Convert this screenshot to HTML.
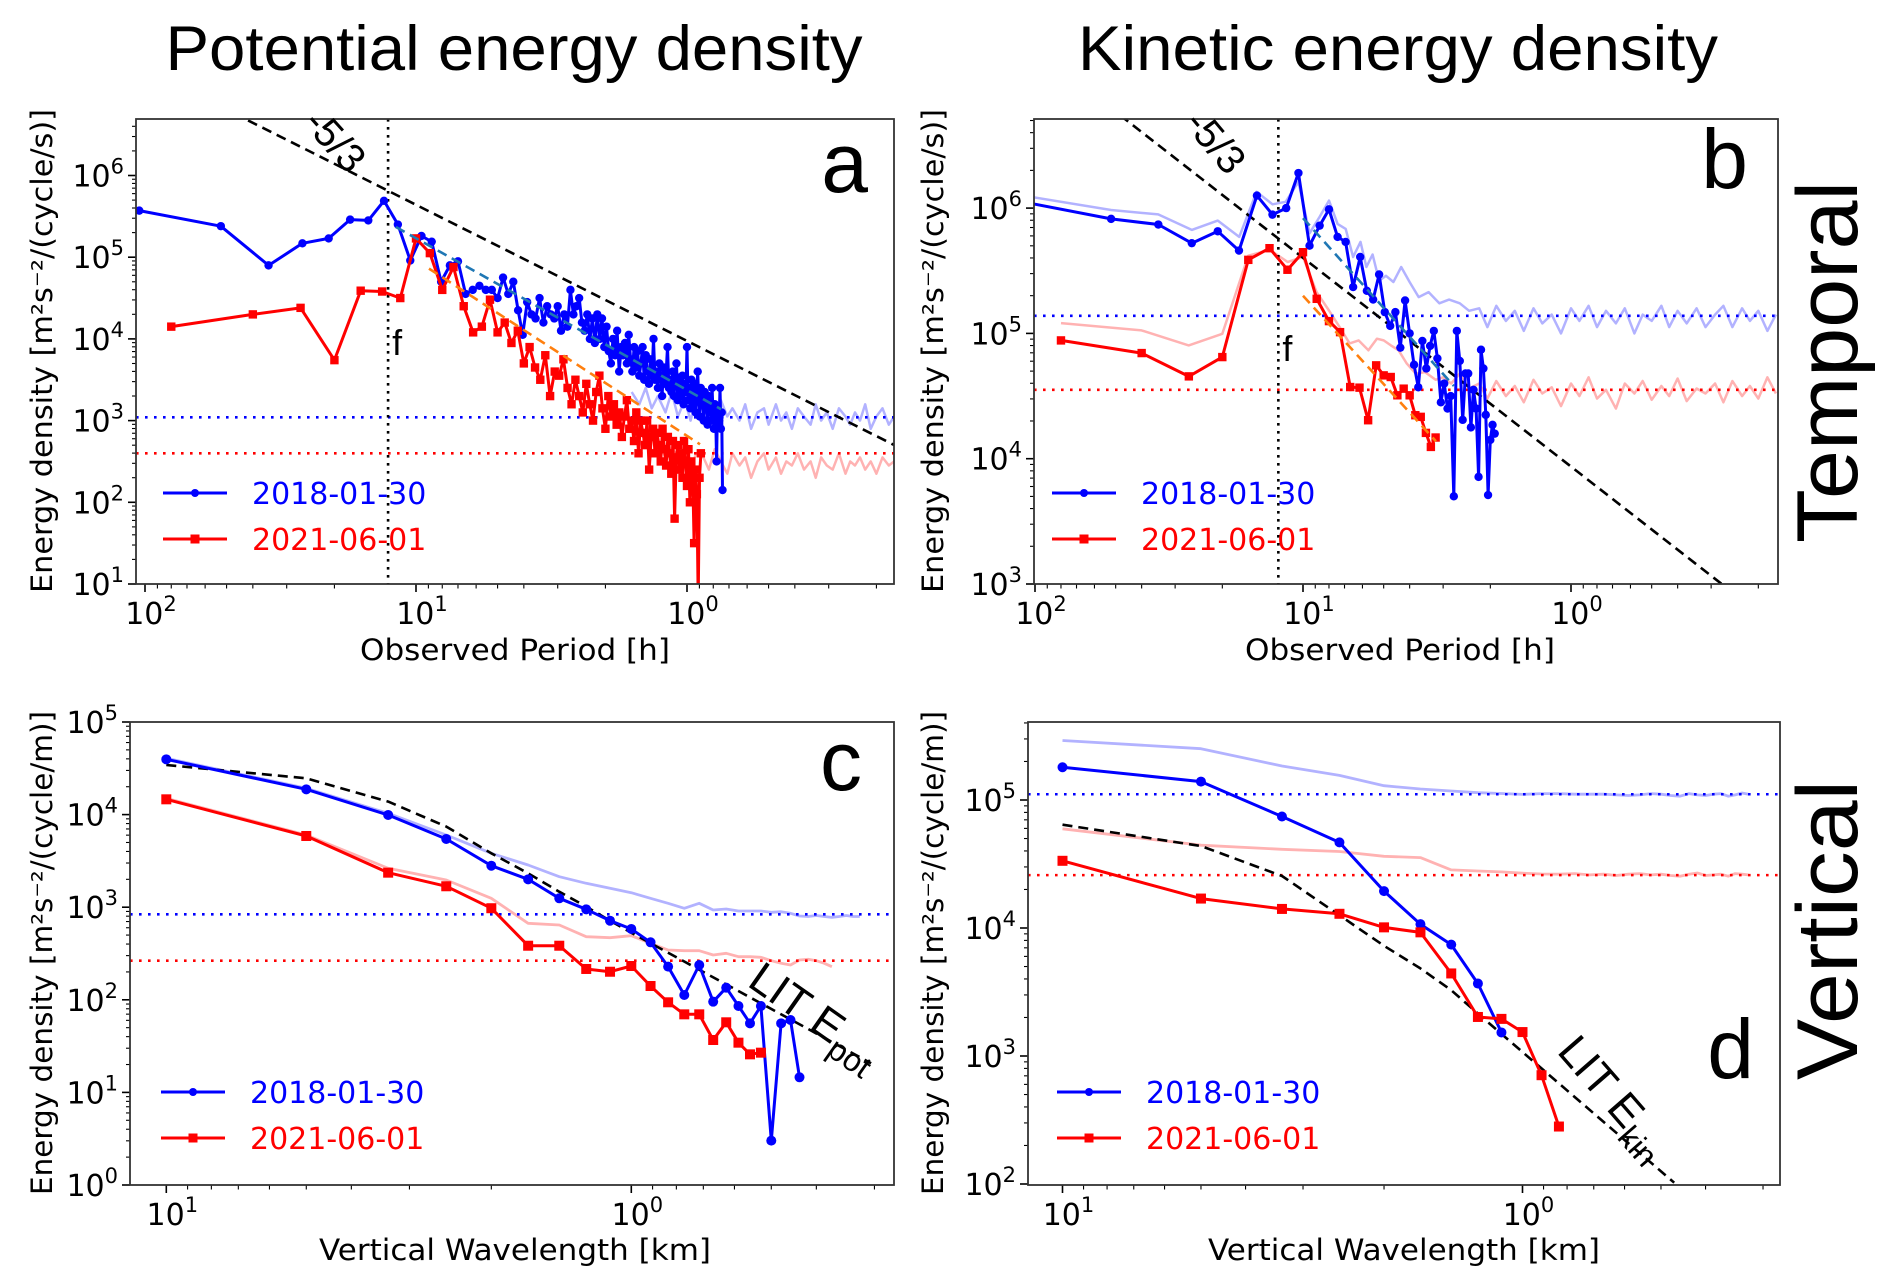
<!DOCTYPE html>
<html><head><meta charset="utf-8"><title>Energy density spectra</title>
<style>
html,body{margin:0;padding:0;background:#fff;}
svg{display:block;}
.tk{font-family:"DejaVu Sans","Liberation Sans",sans-serif;font-size:30px;fill:#000;}
.lab{font-family:"DejaVu Sans","Liberation Sans",sans-serif;font-size:29px;fill:#000;}
.big{font-family:"Liberation Sans",sans-serif;fill:#000;}
</style></head>
<body>
<svg id="fig" xmlns="http://www.w3.org/2000/svg" width="1892" height="1288" viewBox="0 0 1892 1288">
<rect x="0" y="0" width="1892" height="1288" fill="#fff"/>
<text class="big" x="514" y="70" font-size="63" text-anchor="middle" textLength="697" lengthAdjust="spacingAndGlyphs">Potential energy density</text>
<text class="big" x="1398" y="70" font-size="63" text-anchor="middle" textLength="640" lengthAdjust="spacingAndGlyphs">Kinetic energy density</text>
<text class="big" transform="translate(1857,362) rotate(-90)" font-size="86" text-anchor="middle" textLength="362" lengthAdjust="spacingAndGlyphs">Temporal</text>
<text class="big" transform="translate(1857,930) rotate(-90)" font-size="86" text-anchor="middle" textLength="300" lengthAdjust="spacingAndGlyphs">Vertical</text>
</svg>
<script>
// ---------- DATA ----------
const blueA_T = 105;
const blueA_log = [5.57,5.38,4.9,5.17,5.23,5.46,5.45,5.69,5.4,4.96,5.26,5.19,4.7,4.9,4.95,4.55,4.6,4.65,4.6,4.6,
4.5,4.75,4.55,4.7,4.35,4.05,4.45,4.3,4.25,4.5,4.2,4.4,4.3,4.25,4.4,4.1,4.3,4.15,4.6,4.3,
4.4,4.5,4.2,4.1,4.3,4.0,4.25,3.95,4.3,4.0,4.25,3.9,4.15,3.85,3.7,4.0,3.8,4.1,3.6,3.9,
3.8,3.95,3.7,4.05,3.75,3.6,3.9,3.65,3.85,3.55,3.7,3.9,3.5,3.8,3.6,3.45,3.75,3.55,4.0,3.5,
3.6,3.4,3.7,3.55,3.3,3.65,3.45,3.6,3.9,3.4,3.5,3.35,3.6,3.3,3.55,3.7,3.25,3.5,3.4,3.3,
3.55,3.2,3.45,3.35,3.9,3.25,3.4,3.15,3.5,3.3,3.2,3.45,3.1,3.35,3.6,3.25,3.05,3.4,3.2,3.3,
3.0,3.35,3.15,3.25,2.95,3.3,3.1,3.2,3.0,3.4,3.1,2.9,3.2,3.05,2.5,3.15,2.95,3.0,3.4,2.9,3.1,2.15];
const redA_T = 80;
const redA_log = [4.15,4.3,4.38,3.74,4.59,4.58,4.5,5.23,5.05,4.6,4.88,4.4,4.08,4.15,4.48,4.08,
4.2,3.95,4.1,3.7,3.9,3.65,3.5,3.8,3.3,3.6,3.55,3.75,3.4,3.2,
3.5,3.3,3.1,3.45,3.2,3.0,3.35,3.55,3.15,2.9,3.3,3.05,3.2,2.95,3.1,
2.8,3.05,3.25,2.9,3.0,2.75,3.1,2.6,3.0,2.85,2.7,3.0,2.4,2.8,2.9,
2.6,2.85,2.7,2.5,2.9,2.65,2.45,2.8,2.6,2.35,2.75,1.8,2.55,2.7,2.4,
2.6,2.3,2.75,2.5,2.2,2.65,2.0,2.5,2.35,1.5,2.4,2.1,0.8,2.3,2.6];
const fadedA_periods = [1.6,1.5,1.42,1.35,1.28,1.2,1.14,1.08,1.02,0.97,0.92,0.87,0.83,0.79,0.75,0.71,0.68,0.64,0.61,0.58,0.55,0.52,0.5,0.47,0.45,0.43,0.41,0.39,0.37,0.35,0.335,0.32,0.305,0.29,0.275,0.26,0.25,0.24,0.23,0.22,0.21,0.2,0.19,0.18,0.172];
const fadedBlueA_log = [3.35,3.2,3.4,3.15,3.3,3.1,3.35,3.05,3.25,3.0,3.3,3.1,3.2,2.95,3.25,3.05,3.15,3.0,3.2,2.9,3.1,3.15,2.95,3.2,3.0,3.1,2.9,3.15,3.05,2.95,3.2,3.0,3.1,2.9,3.15,3.05,2.95,3.1,3.0,3.2,2.9,3.05,3.15,2.95,3.05];
const fadedRedA_log = [2.9,2.7,2.8,2.6,2.75,2.55,2.7,2.5,2.65,2.45,2.6,2.55,2.4,2.65,2.5,2.35,2.6,2.45,2.55,2.3,2.5,2.6,2.4,2.55,2.35,2.5,2.45,2.6,2.4,2.5,2.3,2.55,2.45,2.4,2.6,2.35,2.5,2.45,2.55,2.4,2.5,2.35,2.55,2.45,2.5];
const noiseA_log = [3.04, 2.6];
const slopeA_anchor = [1.107, 5.82];
const fitTealA = [1.074,5.37,-0.126,3.14];
const fitOrangeA = [0.952,4.86,-0.048,2.71];

const blueB_T = 104;
const blueB_log = [6.038,5.914,5.869,5.72,5.815,5.661,6.1,5.948,6.0,6.28,5.7,5.86,5.99,5.77,5.73,5.37,5.61,5.34,5.27,5.47,
5.17,5.06,5.17,4.886,5.263,5.0,4.75,4.57,4.94,4.72,4.9,5.02,4.8,4.45,4.6,4.4,4.5,3.70,5.02,4.78,
4.31,4.68,4.68,4.25,4.55,4.40,3.855,4.87,4.72,4.35,3.71,4.15,4.27,4.2];
const redB_T = 80;
const redB_log = [4.944,4.843,4.657,4.811,5.587,5.68,5.508,5.648,5.276,5.098,5.01,4.572,4.567,4.307,4.745,4.665,4.652,4.506,4.559,4.506,4.347,4.334,4.206,4.094,4.169];
const fadedBlueB_periods = [104,52,34.7,26,20.8,17.3,14.9,13,11.6,10.4,9.45,8.67,8,7.43,6.93,6.5,6.1,5.8,5.5,5.2,4.9,4.6,4.3,4.0,3.7,3.4,3.1,2.85,2.6,2.4,2.2,2.05,1.9,1.75,1.62,1.5,1.38,1.28,1.18,1.09,1.0,0.93,0.86,0.8,0.74,0.68,0.63,0.58,0.54,0.5,0.46,0.43,0.4,0.37,0.34,0.315,0.29,0.27,0.25,0.23,0.215,0.2,0.185,0.172];
const fadedBlueB_log = [6.09,5.985,5.95,5.826,5.9,5.77,6.13,6.03,6.05,6.21,5.8,5.93,6.06,5.874,5.834,5.61,5.73,5.53,5.63,5.42,5.46,5.41,5.53,5.41,5.29,5.33,5.24,5.27,5.24,5.18,
5.2,5.05,5.22,5.1,5.18,5.02,5.2,5.08,5.15,5.0,5.2,5.1,5.22,5.05,5.18,5.08,5.2,5.0,5.15,5.1,5.22,5.05,5.18,5.08,5.2,5.05,5.15,5.22,5.05,5.2,5.1,5.18,5.02,5.15];
const fadedRedB_periods = [80,40,26.7,20,16,13.3,11.4,10,8.9,8,7.3,6.7,6.2,5.7,5.3,5,4.7,4.4,4.1,3.8,3.5,3.2,3.0,2.8,2.6,2.4,2.2,2.05,1.9,1.75,1.62,1.5,1.38,1.28,1.18,1.09,1.0,0.93,0.86,0.8,0.74,0.68,0.63,0.58,0.54,0.5,0.46,0.43,0.4,0.37,0.34,0.315,0.29,0.27,0.25,0.23,0.215,0.2,0.185,0.172];
const fadedRedB_log = [5.082,5.024,4.904,4.997,5.62,5.667,5.57,5.61,5.33,5.183,5.05,4.92,4.944,4.865,4.958,4.944,4.904,4.865,4.759,4.679,4.69,4.63,4.65,4.60,4.68,4.56,
4.6,4.48,4.62,4.5,4.58,4.45,4.63,4.52,4.57,4.42,4.6,4.5,4.65,4.48,4.55,4.4,4.6,4.52,4.62,4.47,4.58,4.5,4.64,4.46,4.56,4.52,4.6,4.45,4.62,4.5,4.58,4.48,4.65,4.52];
const noiseB_log = [5.14, 4.55];
const slopeB_anchor = [1.092, 5.757];
const fitTealB = [1.0,5.92,0.437,4.58];
const fitOrangeB = [1.0,5.30,0.504,4.14];

const baseLambda = 10;
const blueC_log = [4.597,4.273,3.996,3.737,3.448,3.301,3.096,2.977,2.854,2.765,2.621,2.358,2.052,2.376,1.980,2.131,1.933,1.746,1.933,0.479,1.746,1.782,1.163];
const redC_log = [4.165,3.769,3.373,3.226,2.989,2.584,2.584,2.333,2.303,2.365,2.149,1.973,1.843,1.843,1.566,1.757,1.537,1.411,1.429];
const fadedBlueC_log = [4.608,4.284,4.014,3.780,3.582,3.456,3.329,3.258,3.204,3.157,3.096,3.042,2.988,3.042,2.970,2.981,2.959,2.959,2.959,2.945,2.951,2.934,2.905,2.90,2.91,2.90,2.89,2.90,2.91,2.90,2.90];
const fadedRedC_log = [4.176,3.780,3.420,3.294,3.096,2.826,2.808,2.681,2.671,2.692,2.610,2.538,2.530,2.530,2.484,2.502,2.465,2.465,2.459,2.422,2.394,2.376,2.430,2.437,2.422,2.394,2.357];
const noiseC_log = [2.923, 2.422];
const litC_lambda = [10,5,3.333,2.5,2,1.667,1.429,1.25,1.111,1.0,0.305];
const litC_log = [4.536,4.392,4.14,3.87,3.582,3.366,3.167,3.006,2.854,2.725,1.314];

const blueD_log = [5.256,5.144,4.871,4.669,4.288,4.030,3.870,3.566,3.184];
const redD_log = [4.525,4.230,4.149,4.111,4.005,3.966,3.645,3.305,3.290,3.187,2.85,2.449];
const fadedBlueD_log = [5.465,5.401,5.266,5.192,5.112,5.086,5.070,5.057,5.051,5.044,5.05,5.05,5.045,5.045,5.045,5.04,5.035,5.04,5.05,5.045,5.035,5.03,5.05,5.04,5.035,5.045,5.05,5.03,5.04,5.055,5.045];
const fadedRedD_log = [4.775,4.647,4.615,4.598,4.560,4.550,4.454,4.445,4.438,4.428,4.422,4.42,4.425,4.415,4.42,4.41,4.42,4.425,4.415,4.42,4.41,4.405,4.42,4.43,4.41,4.415,4.42,4.405,4.425,4.42,4.415];
const noiseD_log = [5.045, 4.413];
const litD_lambda = [10,5,3.333,2.5,2,1.667,1.429,1.25,0.468];
const litD_log = [4.807,4.641,4.406,4.10,3.861,3.684,3.514,3.331,2.01];

const legendLabels = ['2018-01-30','2021-06-01'];

// ---------- DRAWING ----------
const NS = 'http://www.w3.org/2000/svg';
const svg = document.getElementById('fig');
function mk(tag, attrs, parent){
  const e = document.createElementNS(NS, tag);
  for (const k in attrs) e.setAttribute(k, attrs[k]);
  (parent || svg).appendChild(e);
  return e;
}
const BLUE='#0000ff', RED='#ff0000';

function makePanel(id, box, xFn, yFn, yMin, yMax, xMajors, xMinLog, xMaxLog){
  const g = mk('g', {});
  
  
  const cp = mk('clipPath', {id:'clip-'+id}, g);
  mk('rect', {x:box.x0, y:box.y0, width:box.x1-box.x0, height:box.y1-box.y0}, cp);
  const plot = mk('g', {'clip-path':'url(#clip-'+id+')'}, g);
  
  
  const axes = mk('g', {}, g);
  
  
  for (let d = yMin; d <= yMax; d++) {
    const Y = yFn(d);
    if (Y >= box.y0-0.5 && Y <= box.y1+0.5) {
      const t = mk('line', {x1:box.x0-8, x2:box.x0, y1:Y, y2:Y, stroke:'#000', 'stroke-width':1.6}, axes);
      
      
      const tx = mk('text', {x:box.x0-12, y:Y+11, class:'tk', 'text-anchor':'end'}, axes);
      
      
      tx.textContent = '10';
      const sup = mk('tspan', {dy:-13, 'font-size':21}, tx);
      sup.textContent = String(d);
    }
    for (let k = 2; k <= 9; k++) {
      const Ym = yFn(d + Math.log10(k));
      if (Ym > box.y0 && Ym < box.y1) {
        const m = mk('line', {x1:box.x0-4, x2:box.x0, y1:Ym, y2:Ym, stroke:'#000', 'stroke-width':1.1}, axes);
        
        
      }
    }
  }
  for (let d = Math.floor(xMinLog); d <= Math.ceil(xMaxLog); d++) {
    const X = xFn(d);
    if (xMajors.indexOf(d) >= 0) {
      const t = mk('line', {x1:X, x2:X, y1:box.y1, y2:box.y1+8, stroke:'#000', 'stroke-width':1.6}, axes);
      
      
      const tx = mk('text', {x:X+6, y:box.y1+40, class:'tk', 'text-anchor':'middle'}, axes);
      
      
      tx.textContent = '10';
      const sup = mk('tspan', {dy:-13, 'font-size':21}, tx);
      sup.textContent = String(d);
    }
    for (let k = 2; k <= 9; k++) {
      const Xm = xFn(d + Math.log10(k));
      if (Xm > box.x0 && Xm < box.x1) {
        const m = mk('line', {x1:Xm, x2:Xm, y1:box.y1, y2:box.y1+4.5, stroke:'#000', 'stroke-width':1.1}, axes);
        
        
      }
    }
  }
  const fr = mk('rect', {x:box.x0, y:box.y0, width:box.x1-box.x0, height:box.y1-box.y0, fill:'none', stroke:'#333', 'stroke-width':1.8}, g);
  
  
  return {g, plot, box, xFn, yFn};
}

function line(P, xs, ys, color, opts){
  const n = Math.min(xs.length, ys.length);
  let d = '';
  for (let i = 0; i < n; i++) d += (i ? 'L' : 'M') + P.xFn(xs[i]).toFixed(1) + ',' + P.yFn(ys[i]).toFixed(1);
  const p = mk('path', {d, fill:'none', stroke:color, 'stroke-width':opts.w || 3, 'stroke-linejoin':'round', opacity:opts.op || 1}, P.plot);
  if (opts.dash) p.setAttribute('stroke-dasharray', opts.dash);
  
  
  if (opts.marker) {
    for (let i = 0; i < n; i++) {
      const X = P.xFn(xs[i]), Y = P.yFn(ys[i]);
      let m;
      if (opts.marker === 'o') m = mk('circle', {cx:X, cy:Y, r:opts.ms || 4.5, fill:color}, P.plot);
      else m = mk('rect', {x:X-(opts.ms||4.5), y:Y-(opts.ms||4.5), width:2*(opts.ms||4.5), height:2*(opts.ms||4.5), fill:color}, P.plot);
      
      
    }
  }
  return p;
}
function hline(P, v, color, name){
  const Y = P.yFn(v);
  const l = mk('line', {x1:P.box.x0, x2:P.box.x1, y1:Y, y2:Y, stroke:color, 'stroke-width':2.6, 'stroke-dasharray':'2.6,6.4'}, P.plot);
  
  
}
function harmonicX(T, n){ const a=[]; for (let i=1;i<=n;i++) a.push(Math.log10(T/i)); return a; }
function logs(arr){ return arr.map(v => Math.log10(v)); }
function legend(P, x, y){
  const cols=[BLUE,RED], mks=['o','s'];
  for (let i=0;i<2;i++){
    const Y = y + i*46;
    const g = mk('g', {}, P.g);
    
    
    mk('line', {x1:x, x2:x+64, y1:Y, y2:Y, stroke:cols[i], 'stroke-width':3}, g);
    if (mks[i]==='o') mk('circle', {cx:x+32, cy:Y, r:4, fill:cols[i]}, g);
    else mk('rect', {x:x+27.5, y:Y-4.5, width:9, height:9, fill:cols[i]}, g);
    const t = mk('text', {x:x+89, y:Y+11, class:'tk', 'font-size':31, style:'fill:'+cols[i]}, g);
    t.textContent = legendLabels[i];
  }
}
function txt(parent, attrs, s, name){
  const t = mk('text', attrs, parent);
  
  
  t.textContent = s;
  return t;
}
function slopeLine(P, anchor, lo, hi){
  const xs=[lo,hi], ys=[anchor[1]+5/3*(lo-anchor[0]), anchor[1]+5/3*(hi-anchor[0])];
  line(P, xs, ys, '#000', {w:2.6, dash:'10,6', name:'minus-five-thirds-line'});
}
function fvert(P, lp){
  const X = P.xFn(lp);
  const l = mk('line', {x1:X, x2:X, y1:P.box.y0, y2:P.box.y1, stroke:'#000', 'stroke-width':2.6, 'stroke-dasharray':'2.6,5.4'}, P.plot);
  
  
  return X;
}

// ----- Panel a -----
const A = makePanel('a', {x0:136,x1:894,y0:119,y1:584}, v=>687-271*v, v=>584-(v-1)*81.7, 1, 6, [2,1,0], -1, 2);
line(A, logs(fadedA_periods), fadedBlueA_log, BLUE, {w:2.5, op:0.3, name:'faded-spectrum-2018'});
line(A, logs(fadedA_periods), fadedRedA_log, RED, {w:2.5, op:0.3, name:'faded-spectrum-2021'});
hline(A, noiseA_log[0], BLUE, 'noise-level-2018');
hline(A, noiseA_log[1], RED, 'noise-level-2021');
slopeLine(A, slopeA_anchor, 2.2, -1.0);
const fXa = fvert(A, slopeA_anchor[0]-0.004);
line(A, harmonicX(blueA_T, blueA_log.length), blueA_log, BLUE, {w:3, marker:'o', ms:4.2, name:'spectrum-2018'});
line(A, harmonicX(redA_T, redA_log.length), redA_log, RED, {w:3, marker:'s', ms:4.2, name:'spectrum-2021'});
line(A, [fitTealA[0],fitTealA[2]], [fitTealA[1],fitTealA[3]], '#1f77b4', {w:2.6, dash:'10,6', name:'fit-2018'});
line(A, [fitOrangeA[0],fitOrangeA[2]], [fitOrangeA[1],fitOrangeA[3]], '#ff7f0e', {w:2.6, dash:'10,6', name:'fit-2021'});
txt(A.g, {x:fXa+4, y:A.yFn(3.8), class:'big', 'font-size':36}, 'f', 'f-label');
txt(A.g, {transform:'translate(302,124) rotate(48)', class:'big', 'font-size':40}, '-5/3', 'slope-label');
txt(A.g, {x:868, y:192, class:'big', 'font-size':84, 'text-anchor':'end'}, 'a', 'panel-letter-a');
legend(A, 163, 493);
txt(svg, {x:515, y:660, class:'lab', 'text-anchor':'middle', textLength:310, lengthAdjust:'spacingAndGlyphs'}, 'Observed Period [h]', 'x-axis-title-a');
txt(svg, {transform:'translate(52,351) rotate(-90)', class:'lab', 'text-anchor':'middle', textLength:484, lengthAdjust:'spacingAndGlyphs'}, 'Energy density [m²s⁻²/(cycle/s)]', 'y-axis-title-a');

// ----- Panel b -----
const B = makePanel('b', {x0:1034,x1:1778,y0:119,y1:584}, v=>1571-268*v, v=>584-(v-3)*125.3, 3, 6, [2,1,0], -1, 2);
line(B, logs(fadedBlueB_periods), fadedBlueB_log, BLUE, {w:2.5, op:0.3, name:'faded-spectrum-2018'});
line(B, logs(fadedRedB_periods), fadedRedB_log, RED, {w:2.5, op:0.3, name:'faded-spectrum-2021'});
hline(B, noiseB_log[0], BLUE, 'noise-level-2018');
hline(B, noiseB_log[1], RED, 'noise-level-2021');
slopeLine(B, slopeB_anchor, 2.2, -1.0);
const fXb = fvert(B, slopeB_anchor[0]);
line(B, harmonicX(blueB_T, blueB_log.length), blueB_log, BLUE, {w:3, marker:'o', ms:4.2, name:'spectrum-2018'});
line(B, harmonicX(redB_T, redB_log.length), redB_log, RED, {w:3, marker:'s', ms:4.2, name:'spectrum-2021'});
line(B, [fitTealB[0],fitTealB[2]], [fitTealB[1],fitTealB[3]], '#1f77b4', {w:2.6, dash:'10,6', name:'fit-2018'});
line(B, [fitOrangeB[0],fitOrangeB[2]], [fitOrangeB[1],fitOrangeB[3]], '#ff7f0e', {w:2.6, dash:'10,6', name:'fit-2021'});
txt(B.g, {x:fXb+4, y:B.yFn(4.78), class:'big', 'font-size':36}, 'f', 'f-label');
txt(B.g, {transform:'translate(1183,124) rotate(50)', class:'big', 'font-size':40}, '-5/3', 'slope-label');
txt(B.g, {x:1748, y:188, class:'big', 'font-size':84, 'text-anchor':'end'}, 'b', 'panel-letter-b');
legend(B, 1052, 493);
txt(svg, {x:1400, y:660, class:'lab', 'text-anchor':'middle', textLength:310, lengthAdjust:'spacingAndGlyphs'}, 'Observed Period [h]', 'x-axis-title-b');
txt(svg, {transform:'translate(943,351) rotate(-90)', class:'lab', 'text-anchor':'middle', textLength:484, lengthAdjust:'spacingAndGlyphs'}, 'Energy density [m²s⁻²/(cycle/s)]', 'y-axis-title-b');

// ----- Panel c -----
const C = makePanel('c', {x0:130,x1:894,y0:722,y1:1185}, v=>166.3+(1-v)*465, v=>722+(5-v)*92.6, 0, 5, [1,0], -1, 2);
function lamX(n){ const a=[]; for (let i=1;i<=n;i++) a.push(Math.log10(baseLambda/i)); return a; }
line(C, lamX(fadedBlueC_log.length), fadedBlueC_log, BLUE, {w:2.8, op:0.3, name:'faded-spectrum-2018'});
line(C, lamX(fadedRedC_log.length), fadedRedC_log, RED, {w:2.8, op:0.3, name:'faded-spectrum-2021'});
hline(C, noiseC_log[0], BLUE, 'noise-level-2018');
hline(C, noiseC_log[1], RED, 'noise-level-2021');
line(C, logs(litC_lambda), litC_log, '#000', {w:2.6, dash:'10,6', name:'lit-model-epot'});
line(C, lamX(blueC_log.length), blueC_log, BLUE, {w:3, marker:'o', ms:5, name:'spectrum-2018'});
line(C, lamX(redC_log.length), redC_log, RED, {w:3, marker:'s', ms:5, name:'spectrum-2021'});
const litc = txt(C.g, {transform:'translate(746,985) rotate(35)', class:'big', 'font-size':44}, 'LIT E', 'lit-epot-label');
const sub1 = mk('tspan', {dy:11, 'font-size':32}, litc); sub1.textContent='pot';
txt(C.g, {x:862, y:790, class:'big', 'font-size':84, 'text-anchor':'end'}, 'c', 'panel-letter-c');
legend(C, 161, 1092);
txt(svg, {x:515, y:1260, class:'lab', 'text-anchor':'middle', textLength:392, lengthAdjust:'spacingAndGlyphs'}, 'Vertical Wavelength [km]', 'x-axis-title-c');
txt(svg, {transform:'translate(52,953) rotate(-90)', class:'lab', 'text-anchor':'middle', textLength:484, lengthAdjust:'spacingAndGlyphs'}, 'Energy density [m²s⁻²/(cycle/m)]', 'y-axis-title-c');

// ----- Panel d -----
const D = makePanel('d', {x0:1028,x1:1780,y0:722,y1:1185}, v=>1062.5+(1-v)*460, v=>800+(5-v)*128, 2, 5, [1,0], -1, 2);
line(D, lamX(fadedBlueD_log.length), fadedBlueD_log, BLUE, {w:2.8, op:0.3, name:'faded-spectrum-2018'});
line(D, lamX(fadedRedD_log.length), fadedRedD_log, RED, {w:2.8, op:0.3, name:'faded-spectrum-2021'});
hline(D, noiseD_log[0], BLUE, 'noise-level-2018');
hline(D, noiseD_log[1], RED, 'noise-level-2021');
line(D, logs(litD_lambda), litD_log, '#000', {w:2.6, dash:'10,6', name:'lit-model-ekin'});
line(D, lamX(blueD_log.length), blueD_log, BLUE, {w:3, marker:'o', ms:5, name:'spectrum-2018'});
line(D, lamX(redD_log.length), redD_log, RED, {w:3, marker:'s', ms:5, name:'spectrum-2021'});
const litd = txt(D.g, {transform:'translate(1556,1052) rotate(49)', class:'big', 'font-size':44}, 'LIT E', 'lit-ekin-label');
const sub2 = mk('tspan', {dy:11, 'font-size':32}, litd); sub2.textContent='kin';
txt(D.g, {x:1754, y:1078, class:'big', 'font-size':84, 'text-anchor':'end'}, 'd', 'panel-letter-d');
legend(D, 1057, 1092);
txt(svg, {x:1404, y:1260, class:'lab', 'text-anchor':'middle', textLength:392, lengthAdjust:'spacingAndGlyphs'}, 'Vertical Wavelength [km]', 'x-axis-title-d');
txt(svg, {transform:'translate(943,953) rotate(-90)', class:'lab', 'text-anchor':'middle', textLength:484, lengthAdjust:'spacingAndGlyphs'}, 'Energy density [m²s⁻²/(cycle/m)]', 'y-axis-title-d');
</script>
</body></html>
